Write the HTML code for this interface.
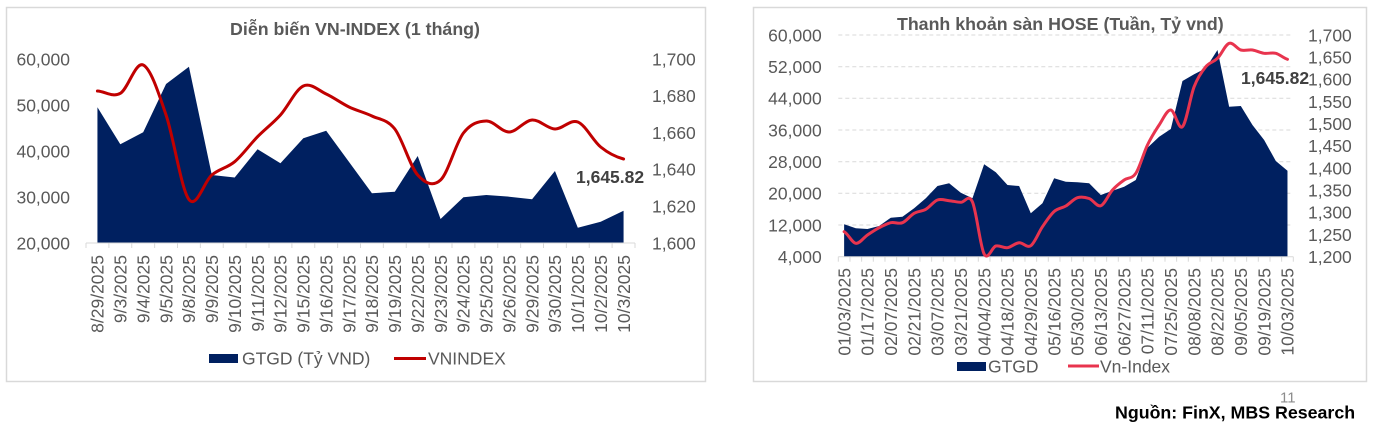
<!DOCTYPE html>
<html>
<head>
<meta charset="utf-8">
<style>
  html,body{margin:0;padding:0;background:#fff;}
  svg{display:block;}
  text{font-family:"Liberation Sans","Noto Sans CJK SC",Arial,sans-serif;}
  .ax{font-size:17.5px;fill:#595959;}
  .ttl{font-size:17.8px;font-weight:bold;fill:#595959;}
  .val{font-size:17.5px;font-weight:bold;fill:#404040;}
</style>
</head>
<body>
<svg id="s" width="1376" height="426" viewBox="0 0 1376 426" xmlns="http://www.w3.org/2000/svg">
  <!-- boxes -->
  <rect x="6.5" y="7.5" width="699" height="374" fill="none" stroke="#d9d9d9" stroke-width="1.5"/>
  <rect x="753.5" y="7.5" width="613" height="374" fill="none" stroke="#d9d9d9" stroke-width="1.5"/>

  <!-- LEFT CHART -->
  <text class="ttl" x="355" y="35" text-anchor="middle">Diễn biến VN-INDEX (1 tháng)</text>
  <g class="ax" text-anchor="end">
    <text x="70" y="65.3">60,000</text>
    <text x="70" y="111.3">50,000</text>
    <text x="70" y="157.3">40,000</text>
    <text x="70" y="203.3">30,000</text>
    <text x="70" y="249.3">20,000</text>
  </g>
  <g class="ax" text-anchor="start">
    <text x="652" y="65.3">1,700</text>
    <text x="652" y="102.1">1,680</text>
    <text x="652" y="138.9">1,660</text>
    <text x="652" y="175.7">1,640</text>
    <text x="652" y="212.5">1,620</text>
    <text x="652" y="249.3">1,600</text>
  </g>
  <path id="lArea" fill="#002060" d=""/>
  <g id="lTicks" stroke="#d9d9d9" stroke-width="1"></g>
  <line x1="86" y1="243" x2="635" y2="243" stroke="#d9d9d9" stroke-width="1"/>
  <path id="lLine" fill="none" stroke="#C00000" stroke-width="3" stroke-linejoin="round" stroke-linecap="round" d=""/>
  <text class="val" x="576" y="183">1,645.82</text>
  <g class="ax" text-anchor="end">
    <text transform="translate(103.7,255) rotate(-90)">8/29/2025</text>
    <text transform="translate(126.6,255) rotate(-90)">9/3/2025</text>
    <text transform="translate(149.5,255) rotate(-90)">9/4/2025</text>
    <text transform="translate(172.4,255) rotate(-90)">9/5/2025</text>
    <text transform="translate(195.2,255) rotate(-90)">9/8/2025</text>
    <text transform="translate(218.1,255) rotate(-90)">9/9/2025</text>
    <text transform="translate(241.0,255) rotate(-90)">9/10/2025</text>
    <text transform="translate(263.9,255) rotate(-90)">9/11/2025</text>
    <text transform="translate(286.7,255) rotate(-90)">9/12/2025</text>
    <text transform="translate(309.6,255) rotate(-90)">9/15/2025</text>
    <text transform="translate(332.5,255) rotate(-90)">9/16/2025</text>
    <text transform="translate(355.4,255) rotate(-90)">9/17/2025</text>
    <text transform="translate(378.2,255) rotate(-90)">9/18/2025</text>
    <text transform="translate(401.1,255) rotate(-90)">9/19/2025</text>
    <text transform="translate(424.0,255) rotate(-90)">9/22/2025</text>
    <text transform="translate(446.9,255) rotate(-90)">9/23/2025</text>
    <text transform="translate(469.7,255) rotate(-90)">9/24/2025</text>
    <text transform="translate(492.6,255) rotate(-90)">9/25/2025</text>
    <text transform="translate(515.5,255) rotate(-90)">9/26/2025</text>
    <text transform="translate(538.4,255) rotate(-90)">9/29/2025</text>
    <text transform="translate(561.2,255) rotate(-90)">9/30/2025</text>
    <text transform="translate(584.1,255) rotate(-90)">10/1/2025</text>
    <text transform="translate(607.0,255) rotate(-90)">10/2/2025</text>
    <text transform="translate(629.9,255) rotate(-90)">10/3/2025</text>
  </g>
  <rect x="209" y="354" width="29" height="9" fill="#002060"/>
  <text class="ax" x="242" y="364.3">GTGD (Tỷ VND)</text>
  <line x1="394" y1="358.5" x2="426" y2="358.5" stroke="#C00000" stroke-width="3"/>
  <text class="ax" x="428" y="364.3">VNINDEX</text>

  <!-- RIGHT CHART -->
  <text class="ttl" x="1060.3" y="30" text-anchor="middle">Thanh khoản sàn HOSE (Tuần, Tỷ vnd)</text>
  <g stroke="#d9d9d9" stroke-width="1" stroke-dasharray="4 3">
    <line x1="838.3" y1="35" x2="1293.3" y2="35"/>
    <line x1="838.3" y1="66.7" x2="1293.3" y2="66.7"/>
    <line x1="838.3" y1="98.3" x2="1293.3" y2="98.3"/>
    <line x1="838.3" y1="130" x2="1293.3" y2="130"/>
    <line x1="838.3" y1="161.7" x2="1293.3" y2="161.7"/>
    <line x1="838.3" y1="193.3" x2="1293.3" y2="193.3"/>
    <line x1="838.3" y1="225" x2="1293.3" y2="225"/>
  </g>
  <g class="ax" text-anchor="end">
    <text x="821.7" y="41.3">60,000</text>
    <text x="821.7" y="73.0">52,000</text>
    <text x="821.7" y="104.6">44,000</text>
    <text x="821.7" y="136.3">36,000</text>
    <text x="821.7" y="168.0">28,000</text>
    <text x="821.7" y="199.6">20,000</text>
    <text x="821.7" y="231.3">12,000</text>
    <text x="821.7" y="263.0">4,000</text>
  </g>
  <g class="ax" text-anchor="start">
    <text x="1308" y="41.3">1,700</text>
    <text x="1308" y="63.5">1,650</text>
    <text x="1308" y="85.6">1,600</text>
    <text x="1308" y="107.8">1,550</text>
    <text x="1308" y="130.0">1,500</text>
    <text x="1308" y="152.2">1,450</text>
    <text x="1308" y="174.3">1,400</text>
    <text x="1308" y="196.5">1,350</text>
    <text x="1308" y="218.7">1,300</text>
    <text x="1308" y="240.8">1,250</text>
    <text x="1308" y="263.0">1,200</text>
  </g>
  <path id="rArea" fill="#002060" d=""/>
  <g id="rTicks" stroke="#d9d9d9" stroke-width="1"></g>
  <line x1="838.3" y1="256.7" x2="1293.3" y2="256.7" stroke="#d9d9d9" stroke-width="1"/>
  <path id="rLine" fill="none" stroke="#E8344E" stroke-width="3" stroke-linejoin="round" stroke-linecap="round" d=""/>
  <text class="val" x="1241" y="84">1,645.82</text>
  <g class="ax" text-anchor="end">
    <text transform="translate(850.4,268) rotate(-90)">01/03/2025</text>
    <text transform="translate(873.7,268) rotate(-90)">01/17/2025</text>
    <text transform="translate(897.1,268) rotate(-90)">02/07/2025</text>
    <text transform="translate(920.4,268) rotate(-90)">02/21/2025</text>
    <text transform="translate(943.7,268) rotate(-90)">03/07/2025</text>
    <text transform="translate(967.1,268) rotate(-90)">03/21/2025</text>
    <text transform="translate(990.4,268) rotate(-90)">04/04/2025</text>
    <text transform="translate(1013.7,268) rotate(-90)">04/18/2025</text>
    <text transform="translate(1037.1,268) rotate(-90)">04/29/2025</text>
    <text transform="translate(1060.4,268) rotate(-90)">05/16/2025</text>
    <text transform="translate(1083.7,268) rotate(-90)">05/30/2025</text>
    <text transform="translate(1107.1,268) rotate(-90)">06/13/2025</text>
    <text transform="translate(1130.4,268) rotate(-90)">06/27/2025</text>
    <text transform="translate(1153.7,268) rotate(-90)">07/11/2025</text>
    <text transform="translate(1177.1,268) rotate(-90)">07/25/2025</text>
    <text transform="translate(1200.4,268) rotate(-90)">08/08/2025</text>
    <text transform="translate(1223.7,268) rotate(-90)">08/22/2025</text>
    <text transform="translate(1247.1,268) rotate(-90)">09/05/2025</text>
    <text transform="translate(1270.4,268) rotate(-90)">09/19/2025</text>
    <text transform="translate(1293.7,268) rotate(-90)">10/03/2025</text>
  </g>
  <rect x="957" y="362" width="29" height="9" fill="#002060"/>
  <text class="ax" x="988" y="372.3">GTGD</text>
  <line x1="1068" y1="366" x2="1099" y2="366" stroke="#E8344E" stroke-width="3"/>
  <text class="ax" x="1100" y="372.3">Vn-Index</text>

  <!-- footer -->
  <text x="1280" y="402.3" style="font-size:15px;fill:#8c8c8c;">11</text>
  <text x="1115" y="418.3" style="font-size:17.8px;font-weight:bold;fill:#000;">Nguồn: FinX, MBS Research</text>
</svg>
<script>
(function(){
  function smooth(x0,dx,ys){
    var n=ys.length, d='M'+x0.toFixed(2)+','+ys[0];
    for(var i=0;i<n-1;i++){
      var p0=ys[Math.max(i-1,0)],p1=ys[i],p2=ys[i+1],p3=ys[Math.min(i+2,n-1)];
      var xa=x0+i*dx,xb=xa+dx;
      d+=' C'+(xa+dx/3).toFixed(2)+','+(p1+(p2-p0)/6).toFixed(2)+' '+(xb-dx/3).toFixed(2)+','+(p2-(p3-p1)/6).toFixed(2)+' '+xb.toFixed(2)+','+p2;
    }
    return d;
  }
  function area(x0,dx,ys,base){
    var d='M'+x0.toFixed(2)+','+base;
    for(var i=0;i<ys.length;i++){d+=' L'+(x0+i*dx).toFixed(2)+','+ys[i];}
    d+=' L'+(x0+(ys.length-1)*dx).toFixed(2)+','+base+' Z';
    return d;
  }
  var NS='http://www.w3.org/2000/svg';
  function ticks(id,x0,dx,n,y1,y2){
    var g=document.getElementById(id);
    for(var k=0;k<=n;k++){
      var l=document.createElementNS(NS,'line');
      var x=x0+k*dx;
      l.setAttribute('x1',x);l.setAttribute('x2',x);
      l.setAttribute('y1',y1);l.setAttribute('y2',y2);
      g.appendChild(l);
    }
  }
  // left
  var lx0=97.44, ldx=22.875;
  var lA=[107.3,144.3,132.3,84,66.7,175,177.5,149.2,163.3,138.3,130.7,162,193.3,191.7,156,219,197.3,195,196.7,199.3,171,227.7,221.7,210.7];
  var lL=[91,93.3,65,115,199.5,175,161.7,136.7,115,86,94,107,116,129,175,180,133,121,132,120,129,122,147,159];
  document.getElementById('lArea').setAttribute('d',area(lx0,ldx,lA,243));
  document.getElementById('lLine').setAttribute('d',smooth(lx0,ldx,lL));
  ticks('lTicks',86,22.875,24,243,248);
  // right
  var rx0=844.13, rdx=11.667;
  var rA=[224.3,228.3,229,226,217.7,216.7,208.3,198.3,186,183.3,192.7,198.3,164.3,172.3,185,186,213.3,203.3,178.3,181.7,182.3,183.3,195,190.7,186.7,180,147.7,136.7,129,81,74.3,68.3,50,106.7,106,125,140,161,170.7];
  var rL=[231.7,243.3,235,227.7,222.7,222.7,213.3,209.3,200,200.7,202.3,202,254,246,247.7,242.7,245.7,226.7,211.5,206,197.7,198.5,205.7,190,180,173.3,145,125,110,126.7,86.7,66.7,58.3,43.3,50,50,53.3,53.3,59.3];
  document.getElementById('rArea').setAttribute('d',area(rx0,rdx,rA,256.7));
  document.getElementById('rLine').setAttribute('d',smooth(rx0,rdx,rL));
  ticks('rTicks',838.3,11.667,39,256.7,261.7);
})();
</script>
</body>
</html>
